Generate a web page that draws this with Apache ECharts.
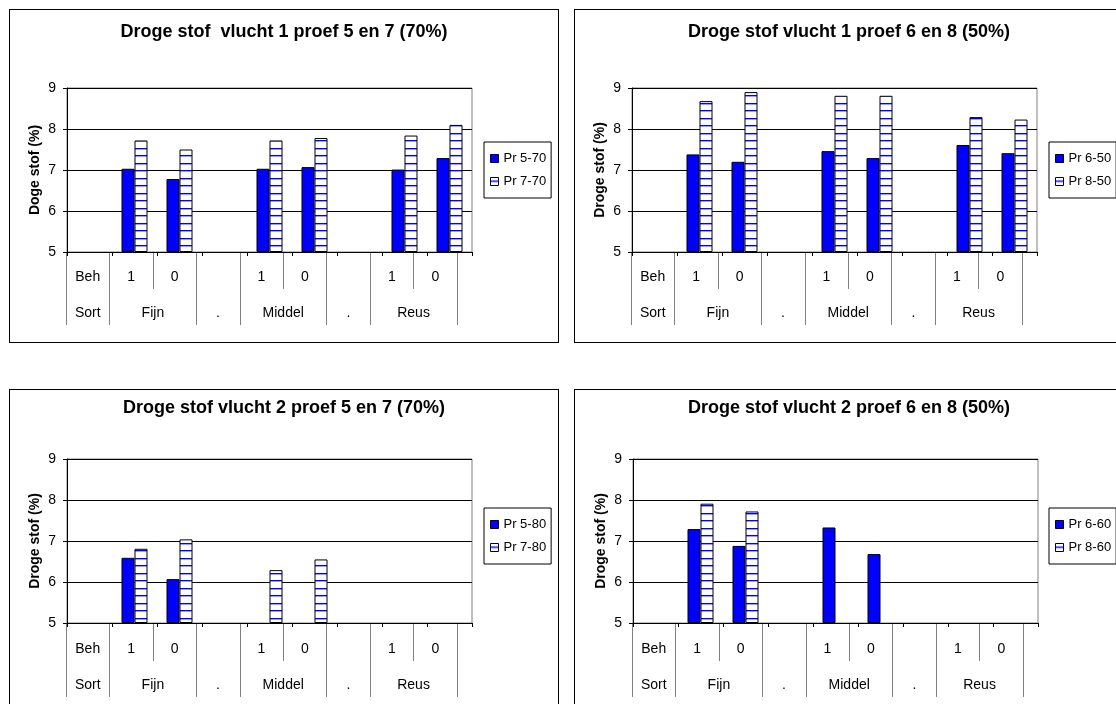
<!DOCTYPE html>
<html><head><meta charset="utf-8">
<script src="https://cdn.jsdelivr.net/npm/echarts@6/dist/echarts.min.js"></script>
<style>
html,body{margin:0;padding:0;background:#fff;width:1116px;height:704px;overflow:hidden;position:relative}
.panel{position:absolute;box-sizing:border-box;border:1px solid #000;background:#fff}
.chart{position:absolute;left:0;top:0}
</style></head><body>
<div id="p1" class="panel"></div>
<div id="p2" class="panel"></div>
<div id="p3" class="panel"></div>
<div id="p4" class="panel"></div>
<script>
// ---- data ----
const categories = ['Beh', 'Fijn 1', 'Fijn 0', '.', 'Middel 1', 'Middel 0', '. ', 'Reus 1', 'Reus 0'];
const behRow = ['Beh', '1', '0', '', '1', '0', '', '1', '0'];
const sortRow = ['Sort', 'Fijn', '.', 'Middel', '.', 'Reus'];
const sortSpan = [1, 2, 1, 2, 1, 2];
const yTicks = [5, 6, 7, 8, 9];

const p1_pr5_70 = [null, 7.03, 6.78, null, 7.03, 7.07, null, 7.01, 7.29];
const p1_pr7_70 = [null, 7.72, 7.50, null, 7.72, 7.78, null, 7.84, 8.10];
const p2_pr6_50 = [null, 7.38, 7.20, null, 7.46, 7.29, null, 7.61, 7.41];
const p2_pr8_50 = [null, 8.68, 8.90, null, 8.81, 8.81, null, 8.29, 8.23];
const p3_pr5_80 = [null, 6.59, 6.07, null, null, null, null, null, null];
const p3_pr7_80 = [null, 6.81, 7.04, null, 6.29, 6.55, null, null, null];
const p4_pr6_60 = [null, 7.29, 6.88, null, 7.33, 6.68, null, null, null];
const p4_pr8_60 = [null, 7.91, 7.72, null, null, null, null, null, null];

const titles = [
  'Droge stof  vlucht 1 proef 5 en 7 (70%)',
  'Droge stof vlucht 1 proef 6 en 8 (50%)',
  'Droge stof vlucht 2 proef 5 en 7 (70%)',
  'Droge stof vlucht 2 proef 6 en 8 (50%)'
];
const yNames = ['Doge stof (%)', 'Droge stof (%)', 'Droge stof (%)', 'Droge stof (%)'];
const seriesNames = [['Pr 5-70', 'Pr 7-70'], ['Pr 6-50', 'Pr 8-50'], ['Pr 5-80', 'Pr 7-80'], ['Pr 6-60', 'Pr 8-60']];
const seriesValues = [[p1_pr5_70, p1_pr7_70], [p2_pr6_50, p2_pr8_50], [p3_pr5_80, p3_pr7_80], [p4_pr6_60, p4_pr8_60]];

// ---- layout (page pixels) ----
const layouts = [
  {id: 'p1', box: [9, 9, 550, 334], plot: [67, 88, 472, 252], table: [66, 457, 289, 325], titleY: 33, legend: [484, 142]},
  {id: 'p2', box: [574, 9, 550, 334], plot: [632, 88, 1037, 252], table: [631, 1022, 289, 325], titleY: 33, legend: [1049, 142]},
  {id: 'p3', box: [9, 389, 550, 334], plot: [67, 459, 472, 623], table: [66, 457, 661, 697], titleY: 409, legend: [484, 508]},
  {id: 'p4', box: [574, 389, 550, 334], plot: [633, 459, 1038, 623], table: [632, 1023, 661, 697], titleY: 409, legend: [1049, 508]}
];

const FONT = 'Liberation Sans, Arial, sans-serif';

function stripePattern() {
  const c = document.createElement('canvas');
  c.width = 4; c.height = 15;
  const g = c.getContext('2d');
  g.fillStyle = '#ffffff'; g.fillRect(0, 0, 4, 15);
  g.fillStyle = '#0000ff'; g.fillRect(0, 3, 4, 1);
  g.fillStyle = '#9c9cff'; g.fillRect(0, 4, 4, 1);
  g.fillStyle = '#0000ff'; g.fillRect(0, 10, 4, 1);
  g.fillStyle = '#9c9cff'; g.fillRect(0, 11, 4, 1);
  return c;
}
const pattern = {image: stripePattern(), repeat: 'repeat'};

// table helpers: 19 points (column boundaries at even, centers at odd)
const pts = Array.from({length: 19}, (_, i) => 'k' + i);
const behLabelAt = {};
behRow.forEach((t, i) => { behLabelAt[2 * i + 1] = t; });
const sortLabelAt = {};
const sortLineAt = {0: true};
let col = 0;
sortRow.forEach((t, i) => {
  sortLabelAt[2 * col + sortSpan[i]] = t;
  col += sortSpan[i];
  sortLineAt[2 * col] = true;
});

function build(idx) {
  const L = layouts[idx];
  const el = document.getElementById(L.id);
  el.style.left = L.box[0] + 'px';
  el.style.top = L.box[1] + 'px';
  el.style.width = L.box[2] + 'px';
  el.style.height = L.box[3] + 'px';
  const cd = document.createElement('div');
  cd.className = 'chart';
  const W = L.box[2] - 2, H = L.box[3] - 2;
  cd.style.width = W + 'px';
  cd.style.height = H + 'px';
  el.appendChild(cd);
  const ox = L.box[0] + 1, oy = L.box[1] + 1;
  const pl = L.plot[0] - ox, pt = L.plot[1] - oy;
  const pw = L.plot[2] - L.plot[0], ph = L.plot[3] - L.plot[1];
  const tl = L.table[0] - ox, tw = L.table[1] - L.table[0];
  const r1t = pt + ph, r1h = L.table[2] - L.plot[3];
  const r2t = L.table[2] - oy, r2h = L.table[3] - L.table[2];

  const chart = echarts.init(cd, null, {renderer: 'canvas', width: W, height: H});
  const names = seriesNames[idx];
  const vals = seriesValues[idx];
  const styles = [
    {color: '#0000ff', borderColor: '#000', borderWidth: 1},
    {color: pattern, borderColor: '#000', borderWidth: 1}
  ];
  const tableAxis = (gi, labelAt, lineFn) => ({
    type: 'category', gridIndex: gi, boundaryGap: false, data: pts,
    axisLine: {show: false}, axisTick: {show: false},
    axisLabel: {show: true, inside: true, interval: 0, margin: 12, verticalAlign: 'middle',
      formatter: (v, i) => (labelAt[i] !== undefined ? labelAt[i] : ''),
      fontFamily: FONT, fontSize: 14, color: '#000'},
    splitLine: {show: true, showMinLine: true, showMaxLine: true, interval: lineFn, lineStyle: {color: '#808080', width: 1}}
  });
  const option = {
    animation: false,
    backgroundColor: '#fff',
    title: {text: titles[idx], left: 'center', top: L.titleY - oy - 5 - 10, padding: 5,
      textStyle: {fontFamily: FONT, fontWeight: 'bold', fontSize: 18, color: '#000'}},
    legend: {
      orient: 'vertical', left: L.legend[0] - ox, top: L.legend[1] - oy,
      borderColor: '#000', borderWidth: 1, padding: [10, 5, 10, 6], itemGap: 10,
      itemWidth: 8, itemHeight: 8, selectedMode: false,
      textStyle: {fontFamily: FONT, fontSize: 13, color: '#000'},
      data: names.map((n, i) => ({name: n, icon: 'rect', itemStyle: styles[i]}))
    },
    grid: [
      {left: pl, top: pt, width: pw, height: ph, show: true, borderColor: '#808080', borderWidth: 1, backgroundColor: 'transparent', outerBoundsMode: 'none'},
      {left: tl, top: r1t, width: tw, height: r1h, outerBoundsMode: 'none'},
      {left: tl, top: r2t, width: tw, height: r2h, outerBoundsMode: 'none'}
    ],
    xAxis: [
      {type: 'category', gridIndex: 0, data: categories,
        axisLabel: {show: false},
        axisLine: {show: true, lineStyle: {color: '#000', width: 1}},
        axisTick: {show: true, length: 4, interval: 0, lineStyle: {color: '#000'}},
        splitLine: {show: false}},
      tableAxis(1, behLabelAt, (i) => i % 2 === 0),
      tableAxis(2, sortLabelAt, (i) => !!sortLineAt[i])
    ],
    yAxis: [
      {type: 'value', gridIndex: 0, min: yTicks[0], max: yTicks[yTicks.length - 1], interval: 1, startValue: yTicks[0],
        name: yNames[idx], nameLocation: 'middle', nameGap: 25, nameRotate: 90, nameMoveOverlap: false,
        nameTextStyle: {fontFamily: FONT, fontWeight: 'bold', fontSize: 14, color: '#000'},
        axisLine: {show: true, lineStyle: {color: '#000', width: 1}},
        axisTick: {show: true, length: 4, lineStyle: {color: '#000'}},
        axisLabel: {fontFamily: FONT, fontSize: 14, color: '#000', margin: 11},
        splitLine: {show: true, lineStyle: {color: '#000', width: 1}}},
      {type: 'value', gridIndex: 1, show: false, min: 0, max: 1},
      {type: 'value', gridIndex: 2, show: false, min: 0, max: 1}
    ],
    series: names.map((n, i) => ({
      type: 'bar', name: n, xAxisIndex: 0, yAxisIndex: 0, data: vals[i],
      barWidth: 13, barGap: '0%', clip: true,
      itemStyle: styles[i],
      emphasis: {disabled: true}
    }))
  };
  chart.setOption(option);
}
[0, 1, 2, 3].forEach(build);
</script>
</body></html>
